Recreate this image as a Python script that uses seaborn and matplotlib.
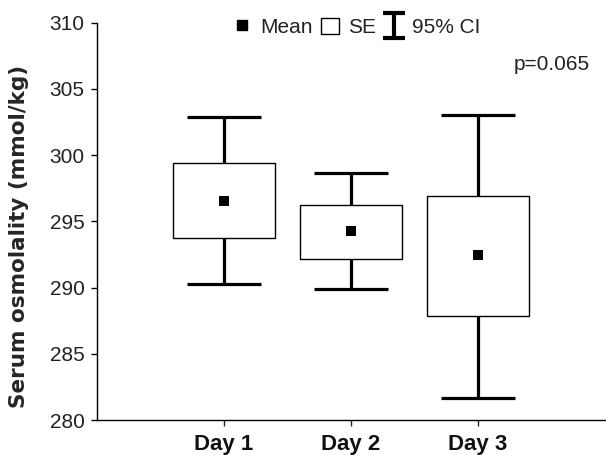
import numpy as np
import matplotlib
matplotlib.use("Agg")
import matplotlib.pyplot as plt
import seaborn as sns
from matplotlib.lines import Line2D
from matplotlib.patches import Patch
from matplotlib.path import Path

days = ["Day 1", "Day 2", "Day 3"]
mean = [296.55, 294.28, 292.49]
se_lo = [293.77, 292.17, 287.86]
se_hi = [299.37, 296.24, 296.89]
ci_lo = [290.30, 289.87, 281.67]
ci_hi = [302.84, 298.66, 303.00]
yticks = [280, 285, 290, 295, 300, 305, 310]
p_text = "p=0.065"

sns.set_theme(style="ticks")
plt.rcParams['font.family'] = ['Liberation Sans', 'DejaVu Sans']

fig = plt.figure(figsize=(6.06, 4.55), dpi=100)
ax = fig.add_axes([0.160, 0.0769, 0.838, 0.8736])

x = np.arange(len(days)) + 1
mean_a = np.array(mean)
err = [mean_a - np.array(ci_lo), np.array(ci_hi) - mean_a]

ax.errorbar(x, mean_a, yerr=err, fmt='none', ecolor='black', elinewidth=2.3,
            capsize=26.5, capthick=2.3, zorder=1)
ax.bar(x, np.array(se_hi) - np.array(se_lo), bottom=se_lo, width=0.8,
       facecolor='white', edgecolor='black', linewidth=1.0, zorder=2)
sns.scatterplot(x=x, y=mean_a, marker='s', color='black', s=50,
                linewidth=0, zorder=3, ax=ax)

ax.set_xlim(0, 4)
ax.set_ylim(280, 310)
ax.set_yticks(yticks)
ax.set_yticklabels([str(v) for v in yticks], fontsize=15, color='#222222')
ax.set_xticks(x)
ax.set_xticklabels(days, fontsize=16, fontweight='bold', color='#111111')
ax.tick_params(axis='y', direction='out', length=4, width=1, pad=5, colors='black')
ax.tick_params(axis='x', direction='out', length=4, width=1, pad=6)
for lab in ax.get_yticklabels():
    lab.set_color('#222222')
for s in ['top', 'right']:
    ax.spines[s].set_visible(False)
for s in ['left', 'bottom']:
    ax.spines[s].set_linewidth(1.0)
    ax.spines[s].set_color('black')

ax.set_ylabel("Serum osmolality (mmol/kg)", fontsize=15.5, fontweight='bold',
              family=['DejaVu Sans'])
ax.yaxis.set_label_coords(-0.134, 0.462)

ax.text(0.970, 0.894, p_text, transform=ax.transAxes, ha='right', va='center',
        fontsize=15, color='#222222')

ibeam = Path([(-0.45, 0.5), (0.45, 0.5), (0, 0.5), (0, -0.5), (-0.45, -0.5), (0.45, -0.5)],
             [Path.MOVETO, Path.LINETO, Path.MOVETO, Path.LINETO, Path.MOVETO, Path.LINETO])
handles = [
    Line2D([], [], marker='s', color='black', linestyle='none', markersize=7),
    Patch(facecolor='white', edgecolor='black', linewidth=1.0),
    Line2D([], [], marker=ibeam, color='black', linestyle='none', markersize=18,
           markeredgewidth=3),
]
leg = fig.legend(handles, ["Mean", "SE", "95% CI"], loc='center',
                 bbox_to_anchor=(0.589, 0.940), ncol=3, frameon=False,
                 fontsize=15, handlelength=0.85, handletextpad=0.45,
                 columnspacing=0.4, handleheight=0.85)
for t in leg.get_texts():
    t.set_color('#222222')

fig.savefig("out.png", dpi=100)
